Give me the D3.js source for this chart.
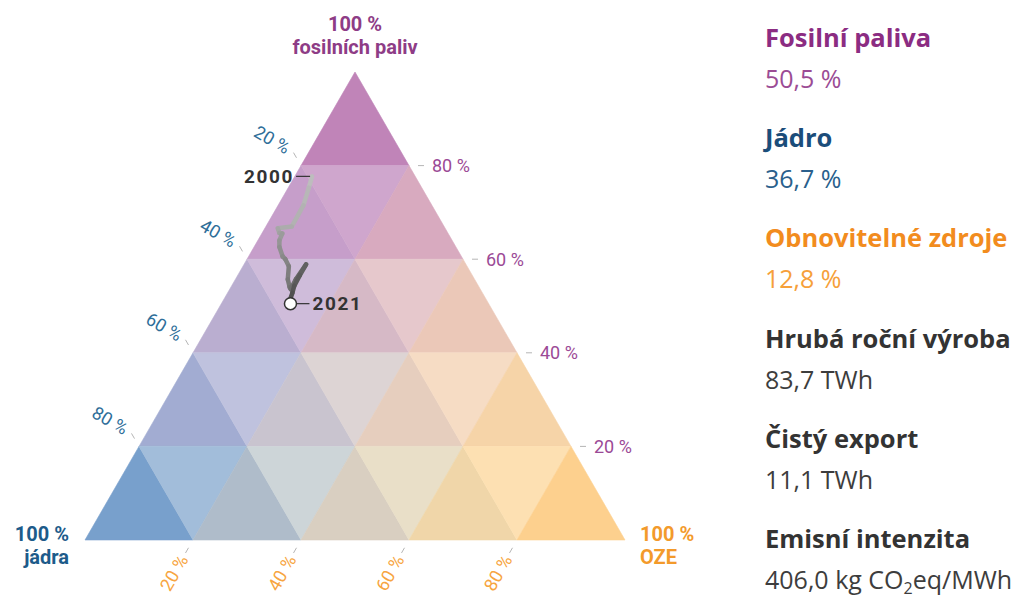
<!DOCTYPE html>
<meta charset="utf-8">
<style>
    body { margin: 0; background: #fff; }
    svg { display: block; }
    .tick-label { font: 18px Roboto, sans-serif; }
    .corner { font: bold 20px Roboto, sans-serif; }
    .year { font: bold 19px Roboto, sans-serif; fill: #333; letter-spacing: 1.6px; }
    .panel-title { font: bold 25.5px "Open Sans", sans-serif; }
    .panel-value { font: 25px "Open Sans", sans-serif; }
</style>
<svg width="1017" height="599"></svg>
<script src="https://d3js.org/d3.v7.min.js"></script>
<script>
    // shares in % (fosilní, jádro, OZE), 2000-2021
    var years = d3.range(2000, 2022);
    var fossil     = [77.7, 75.3, 71.5, 67.0, 66.6, 65.6, 65.5, 64.0, 62.6, 60.6, 60.0, 58.5, 55.7, 54.0, 53.6, 55.7, 58.9, 56.6, 54.3, 52.8, 51.3, 50.5];
    var nuclear    = [19.1, 20.9, 23.8, 28.2, 31.0, 31.2, 30.7, 32.0, 32.7, 33.1, 32.9, 33.0, 34.6, 35.1, 35.1, 33.1, 29.6, 31.9, 34.1, 35.2, 36.4, 36.7];
    var renewables = [3.2, 3.8, 4.7, 4.8, 2.4, 3.2, 3.8, 4.0, 4.7, 6.3, 7.1, 8.5, 9.7, 10.9, 11.3, 11.2, 11.5, 11.5, 11.6, 12.0, 12.3, 12.8];
    var gridSteps = [20, 40, 60, 80];

    var panelTitles = ["Fosilní paliva", "Jádro", "Obnovitelné zdroje", "Hrubá roční výroba", "Čistý export", "Emisní intenzita"];
    var panelValues = ["50,5 %", "36,7 %", "12,8 %", "83,7 TWh", "11,1 TWh", "406,0 kg CO|2|eq/MWh"];

    var titleColors = ["#8b2c82", "#1b4d7a", "#f28c1e", "#333", "#333", "#333"];
    var valueColors = ["#9b4c95", "#2a5f8c", "#f6a03a", "#3d3d3d", "#3d3d3d", "#3d3d3d"];

    // cell fills, row by row from the top, left to right
    var cellColors = [
        "#c084b8",
        "#c69eca", "#cfa6cd", "#d8aabf",
        "#baaed0", "#cfbcda", "#d6b9c6", "#e6c8cc", "#ebc8b8",
        "#a2acd2", "#bfc2de", "#c9c4cf", "#ddd4d4", "#e6cebe", "#f6dcc4", "#f6d4a8",
        "#78a0cc", "#a2bdda", "#afbcca", "#cdd5d8", "#d9cfc1", "#e9dfc8", "#f0d6a9", "#fde0b2", "#fdd08e"
    ];

    var svg = d3.select("svg");

    var yScale = d3.scaleLinear().domain([0, 100]).range([540, 72]);
    var xScale = d3.scaleLinear().domain([0, 100]).range([85, 625]);

    function project(f, r) {
        return [xScale(r + f / 2), yScale(f)];
    }

    // triangle cells
    var cells = [];
    var step = 20;
    for (var i = 0; i < 5; i++) {
        var fTop = 100 - step * i, fBot = 100 - step * (i + 1);
        for (var j = 0; j <= i; j++) {
            cells.push([project(fTop, step * j), project(fBot, step * j), project(fBot, step * (j + 1))]);
            if (j < i) {
                cells.push([project(fTop, step * j), project(fTop, step * (j + 1)), project(fBot, step * (j + 1))]);
            }
        }
    }

    svg.append("g").selectAll("path")
        .data(cells)
        .enter().append("path")
        .attr("d", function (d) { return "M" + d.join("L") + "Z"; })
        .attr("fill", function (d, k) { return cellColors[k]; })
        .attr("stroke", function (d, k) { return cellColors[k]; })
        .attr("stroke-width", 0.6);

    // ticks
    var tickColor = "#b5b5b5";
    var ticks = svg.append("g");

    // right edge: fosilní
    gridSteps.forEach(function (v) {
        var p = project(v, 100 - v);
        ticks.append("line").attr("x1", p[0] + 9).attr("x2", p[0] + 15).attr("y1", p[1]).attr("y2", p[1])
            .attr("stroke", tickColor);
        ticks.append("text").attr("class", "tick-label")
            .attr("x", p[0] + 23).attr("y", p[1]).attr("dy", "0.35em")
            .attr("fill", "#9b4a96").text(v + " %");
    });

    // left edge: jádro
    var dl = [-0.5, -Math.sqrt(3) / 2];
    gridSteps.forEach(function (v) {
        var p = project(100 - v, 0);
        ticks.append("line")
            .attr("x1", p[0] + dl[0] * 9).attr("y1", p[1] + dl[1] * 9)
            .attr("x2", p[0] + dl[0] * 15).attr("y2", p[1] + dl[1] * 15)
            .attr("stroke", tickColor);
        var tx = p[0] + dl[0] * 19 - 3, ty = p[1] + dl[1] * 19;
        ticks.append("text").attr("class", "tick-label")
            .attr("transform", "translate(" + tx + "," + ty + ") rotate(30)")
            .attr("text-anchor", "end").attr("dy", "0.35em")
            .attr("fill", "#2e6e99").text(v + " %");
    });

    // bottom edge: OZE
    var db = [-0.5, Math.sqrt(3) / 2];
    gridSteps.forEach(function (v) {
        var p = project(0, v);
        ticks.append("line")
            .attr("x1", p[0] + db[0] * 9).attr("y1", p[1] + db[1] * 9)
            .attr("x2", p[0] + db[0] * 15).attr("y2", p[1] + db[1] * 15)
            .attr("stroke", tickColor);
        var tx = p[0] + db[0] * 19, ty = p[1] + db[1] * 19;
        ticks.append("text").attr("class", "tick-label")
            .attr("transform", "translate(" + tx + "," + ty + ") rotate(-60)")
            .attr("text-anchor", "end").attr("dy", "0.35em")
            .attr("fill", "#f7a541").text(v + " %");
    });

    // corner labels
    var apex = project(100, 0), cornerL = project(0, 0), cornerR = project(0, 100);
    var corners = [
        {lines: ["100 %", "fosilních paliv"], x: apex[0], y: apex[1] - 41, anchor: "middle", color: "#8e3c86"},
        {lines: ["100 %", "jádra"], x: cornerL[0] - 16, y: cornerL[1] + 1, anchor: "end", color: "#1d5b8a"},
        {lines: ["100 %", "OZE"], x: cornerR[0] + 15, y: cornerR[1] + 1, anchor: "start", color: "#f39a2b"}
    ];
    corners.forEach(function (c) {
        var t = svg.append("text").attr("class", "corner")
            .attr("x", c.x).attr("y", c.y)
            .attr("text-anchor", c.anchor).attr("fill", c.color);
        c.lines.forEach(function (s, k) {
            t.append("tspan").attr("x", c.x).attr("dy", k ? 23 : 0).text(s);
        });
    });

    // trajectory
    var pts = years.map(function (y, k) { return project(fossil[k], renewables[k]); });
    var shade = d3.scaleLinear().domain([0, years.length - 2]).range(["#bdbdbd", "#4a4a4a"]);
    var segs = d3.pairs(pts);
    svg.append("g").selectAll("line")
        .data(segs)
        .enter().append("line")
        .attr("x1", function (d) { return d[0][0]; })
        .attr("y1", function (d) { return d[0][1]; })
        .attr("x2", function (d) { return d[1][0]; })
        .attr("y2", function (d) { return d[1][1]; })
        .attr("stroke", function (d, k) { return shade(k); })
        .attr("stroke-width", 4.5)
        .attr("stroke-linecap", "round");

    var first = pts[0], last = pts[pts.length - 1];
    svg.append("line").attr("x1", first[0] - 16).attr("x2", first[0] - 2)
        .attr("y1", first[1]).attr("y2", first[1]).attr("stroke", "#333").attr("stroke-width", 1.2);
    svg.append("text").attr("class", "year")
        .attr("x", first[0] - 18).attr("y", first[1]).attr("dy", "0.35em")
        .attr("text-anchor", "end").text(years[0]);

    svg.append("line").attr("x1", last[0] + 6).attr("x2", last[0] + 19)
        .attr("y1", last[1]).attr("y2", last[1]).attr("stroke", "#333").attr("stroke-width", 1.2);
    svg.append("circle").attr("cx", last[0]).attr("cy", last[1]).attr("r", 6)
        .attr("fill", "#fff").attr("stroke", "#333").attr("stroke-width", 1.5);
    svg.append("text").attr("class", "year")
        .attr("x", last[0] + 22).attr("y", last[1]).attr("dy", "0.35em")
        .text(years[years.length - 1]);

    // side panel
    var panel = svg.append("g").attr("transform", "translate(765,0)");
    panelTitles.forEach(function (t, k) {
        var y0 = 47 + k * 100.2;
        panel.append("text").attr("class", "panel-title")
            .attr("y", y0).attr("fill", titleColors[k]).text(t);
        var v = panel.append("text").attr("class", "panel-value")
            .attr("y", y0 + 41).attr("fill", valueColors[k]);
        panelValues[k].split("|").forEach(function (part, m) {
            var ts = v.append("tspan").text(part);
            if (m === 1) ts.attr("font-size", 16).attr("dy", 5);
            if (m === 2) ts.attr("dy", -5);
        });
    });
</script>
